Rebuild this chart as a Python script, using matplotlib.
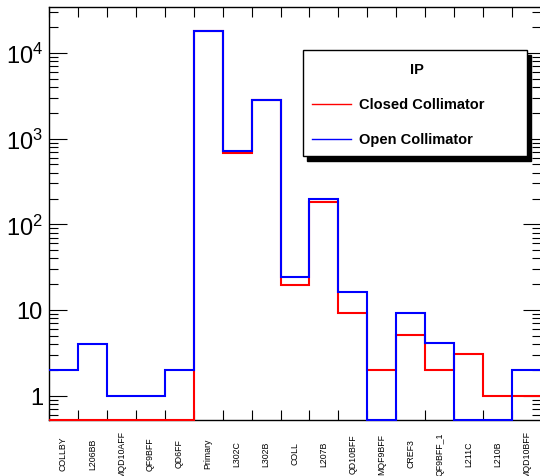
import numpy as np
import matplotlib
matplotlib.use("Agg")
import matplotlib.pyplot as plt
from matplotlib.patches import Rectangle
from matplotlib.lines import Line2D
from matplotlib.transforms import blended_transform_factory

plt.rcParams['font.family'] = ['Liberation Sans', 'DejaVu Sans']
plt.rcParams['mathtext.fontset'] = 'custom'
plt.rcParams['mathtext.rm'] = 'Liberation Sans'
plt.rcParams['mathtext.it'] = 'Liberation Sans:italic'
plt.rcParams['mathtext.bf'] = 'Liberation Sans:bold'

# bin names (elements along the beam line)
elements = ["COLLBY", "L206BB", "MQD10AFF", "QF9BFF", "QD6FF", "Primary", "L302C",
            "L302B", "COLL", "L207B", "QD10BFF", "MQF9BFF", "CREF3", "QF9BFF_1",
            "L211C", "L210B", "MQD10BFF"]
closed_coll = [0, 0, 0, 0, 0, 18000, 680, 2850, 19.5, 184, 9.2, 2, 5.1, 2, 3.1, 1, 1]
open_coll = [2, 4, 1, 1, 2, 18000, 724, 2850, 24, 195, 16.3, 0, 9.2, 4.1, 0, 0, 2]
ytick_vals = [1, 10, 100, 1000, 10000]
ytick_labels = ["1", "10", r"$\mathregular{10^{2}}$", r"$\mathregular{10^{3}}$", r"$\mathregular{10^{4}}$"]
legend_title = "IP"
legend_names = ["Closed Collimator", "Open Collimator"]

ymin, ymax = 0.52, 34400
W, H = 540, 477

fig = plt.figure(figsize=(W / 100, H / 100), dpi=100)
ax = fig.add_axes([49 / W, 1 - 421 / H, (541 - 49) / W, 413 / H])

edges = np.arange(len(elements) + 1)
# empty bins sit on the bottom of the frame, like ROOT does
ax.stairs(np.clip(closed_coll, ymin, None), edges, baseline=None, color="red", lw=1.5, zorder=3, clip_on=False)
ax.stairs(np.clip(open_coll, ymin, None), edges, baseline=None, color="blue", lw=1.5, zorder=4, clip_on=False)

ax.set_yscale("log")
ax.set_ylim(ymin, ymax)
ax.set_xlim(0, len(elements))

for s in ax.spines.values():
    s.set_linewidth(1.0)

ax.set_xticks(edges)
ax.set_xticklabels([])
ax.tick_params(axis="x", which="major", direction="in", length=7.2, width=0.8, top=True, bottom=True)
ax.tick_params(axis="y", which="major", direction="in", length=12.7, width=0.8, left=True, right=True, labelleft=False)
ax.tick_params(axis="y", which="minor", direction="in", length=6.5, width=0.8, left=True, right=True, labelleft=False)
ax.yaxis.set_minor_locator(matplotlib.ticker.LogLocator(base=10, subs=np.arange(2, 10)))
ax.yaxis.set_minor_formatter(matplotlib.ticker.NullFormatter())

# y labels, ROOT style
ytr = blended_transform_factory(fig.transFigure, ax.transData)
for v, lab in zip(ytick_vals, ytick_labels):
    ax.text(43 / W, v, lab, transform=ytr, ha="right", va="center_baseline", fontsize=17)

# x labels, vertical, centred under each bin
xtr = blended_transform_factory(ax.transData, ax.transAxes)
for i, name in enumerate(elements):
    ax.text(i + 0.5, -0.08, name, transform=xtr, rotation=90, ha="center", va="center", fontsize=6.3)

# legend box with shadow
def fx(px):
    return px / W

def fy(py):
    return 1 - py / H

fig.patches.append(Rectangle((fx(307), fy(162)), fx(527) - fx(303), fy(51) - fy(157),
                             transform=fig.transFigure, facecolor="black", edgecolor="black", zorder=5))
fig.patches.append(Rectangle((fx(303), fy(157)), fx(527) - fx(303), fy(51) - fy(157),
                             transform=fig.transFigure, facecolor="white", edgecolor="black", lw=1.0, zorder=6))
fig.text(fx(417), fy(70), legend_title, ha="center", va="center", fontsize=10.5, fontweight="bold", zorder=7)
for name, col, py in zip(legend_names, ["red", "blue"], [105, 140]):
    fig.lines.append(Line2D([fx(312), fx(351)], [fy(py), fy(py)], transform=fig.transFigure,
                            color=col, lw=1.0, zorder=7))
    fig.text(fx(359), fy(py), name, ha="left", va="center", fontsize=10.5, fontweight="bold", zorder=7)

plt.savefig("out.png", dpi=100)
